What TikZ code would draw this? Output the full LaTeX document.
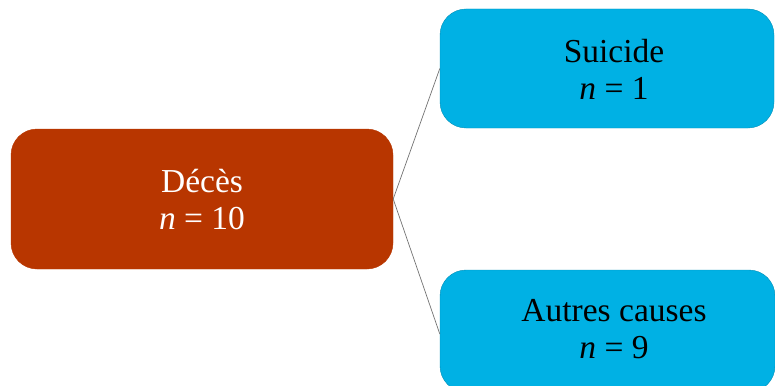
\documentclass[tikz,border=0pt]{standalone}
\usepackage{fontspec}
\setmainfont{Liberation Serif}
\definecolor{deces}{RGB}{184,54,0}
\definecolor{cause}{RGB}{0,177,228}
\begin{document}
\begin{tikzpicture}[x=1pt,y=-1pt,
  box/.style={rounded corners=26pt, inner sep=0pt, line width=0.4pt},
  lbl/.style={align=center, font=\fontsize{33.5}{37}\selectfont, inner sep=0pt},
  conn/.style={draw=black!55, line width=0.7pt}]
\useasboundingbox (0,0) rectangle (775,385);
\node[box, fill=deces, draw=deces, minimum width=382pt, minimum height=140pt] (L) at (202,199) {};
\node[box, fill=cause, draw=cause!80!black, minimum width=334pt, minimum height=119pt] (T) at (607,68.5) {};
\node[box, fill=cause, draw=cause!80!black, minimum width=335pt, minimum height=122pt] (B) at (607.5,331) {};
\node[lbl, text=white] (Lt) at (202,200) {Décès\\\textit{n} = 10};
\node[lbl, text=black] (Tt) at (614,69) {Suicide\\\textit{n} = 1};
\node[lbl, text=black] (Bt) at (614,329) {Autres causes\\\textit{n} = 9};
\draw[conn] (L.east) -- (T.west);
\draw[conn] (L.east) -- ([yshift=-3pt]B.west);
\end{tikzpicture}
\end{document}
